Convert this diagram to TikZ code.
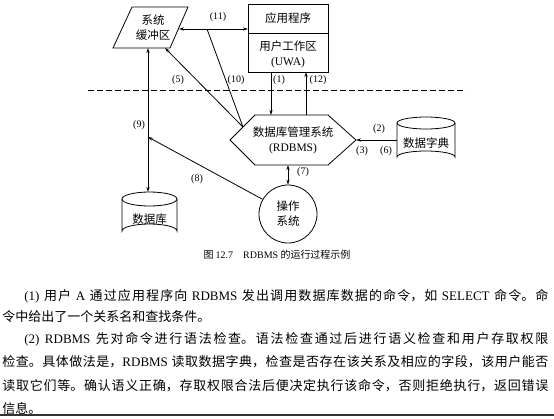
\documentclass[tikz,border=0pt]{standalone}
\usepackage{fontspec}
\setmainfont{Noto Sans CJK SC}
\newfontfamily\latf{Liberation Serif}
\usetikzlibrary{arrows.meta}
\XeTeXlinebreaklocale "zh"
\XeTeXlinebreakskip=0pt plus 1pt
\newcommand\lt[1]{{\latf #1}}
\begin{document}
\begin{tikzpicture}[x=1pt,y=-1pt, line width=0.8pt,
  every node/.style={inner sep=0pt},
  cjk/.style={font=\fontsize{11.5}{15}\selectfont, align=center},
  lbl/.style={font=\latf\fontsize{10}{12}\selectfont},
  arr/.style={-{Stealth[length=5pt,width=3.2pt]}},
  darr/.style={{Stealth[length=5pt,width=3.2pt]}-{Stealth[length=5pt,width=3.2pt]}},
  para/.style={anchor=north west, text width=546pt, align=justify, font=\fontsize{13}{21.5}\selectfont},
]
\useasboundingbox (0,0) rectangle (554,418);
\fill[white] (0,0) rectangle (554,418);
% system buffer (parallelogram)
\draw (113,48) -- (132,7) -- (188,7) -- (170,48) -- cycle;
\node[cjk] (buf) at (153,28) {系统\\缓冲区};
\coordinate (bufR) at (179,29);
\coordinate (bufB9) at (148,48);
\coordinate (bufB5) at (165,48);
% application box
\draw (248,4) rectangle (328,72);
\draw (248,33) -- (328,33);
\node[cjk] (app) at (288,18) {应用程序};
\node[cjk] (uwa) at (288,54) {用户工作区\\\lt{(UWA)}};
\coordinate (appL) at (248,29);
\coordinate (app1) at (271,72);
\coordinate (app12) at (306,72);
% RDBMS hexagon
\draw (230,140) -- (255,115) -- (328,115) -- (356,140) -- (328,165) -- (255,165) -- cycle;
\node[cjk] (rdbms) at (293,140) {数据库管理系统\\\lt{(RDBMS)}};
\coordinate (hexUL) at (243,127);
\coordinate (hexT1) at (271,115);
\coordinate (hexT12) at (306,115);
\coordinate (hexR) at (356,140);
\coordinate (hexB) at (288,165);
% data dictionary
\draw (397,123) -- (397,157) arc[start angle=180,end angle=360,x radius=29,y radius=6] -- (455,123);
\draw (426,123) ellipse[x radius=29,y radius=6];
\node[cjk] (dict) at (426,143) {数据字典};
\coordinate (dictL) at (397,140);
% database
\draw (122,199) -- (122,231) arc[start angle=180,end angle=360,x radius=27.5,y radius=7] -- (177,199);
\draw (149.5,199) ellipse[x radius=27.5,y radius=7];
\node[cjk] (db) at (149.5,219) {数据库};
\coordinate (dbT) at (148,192);
% operating system
\node[circle, draw, minimum size=58pt, cjk] (os) at (288,214) {操作\\系统};
% dashed separator
\coordinate (dashL) at (88,90);
\coordinate (dashR) at (466,90);
\draw[dash pattern=on 6pt off 3pt] (dashL) -- (dashR);
% connectors
\draw[darr] (bufR) -- (appL);
\coordinate (j10) at (207,29);
\draw (hexUL) -- (j10);
\draw[arr] (hexUL) -- (bufB5);
\draw[darr] (bufB9) -- (dbT);
\coordinate (j8) at (148,137);
\draw[arr] (os.150) -- (j8);
\draw[arr] (app1) -- (hexT1);
\draw[arr] (hexT12) -- (app12);
\draw[arr] (dictL) -- (hexR);
\draw[darr] (hexB) -- (os.north);
% labels
\node[lbl] (l11) at (218,17) {(11)};
\node[lbl] (l10) at (236,80) {(10)};
\node[lbl] (l5) at (178,80) {(5)};
\node[lbl] (l9) at (139,125) {(9)};
\node[lbl] (l8) at (197,179) {(8)};
\node[lbl] (l1) at (279,80) {(1)};
\node[lbl] (l12) at (318,80) {(12)};
\node[lbl] (l2) at (379,129) {(2)};
\node[lbl] (l3) at (362,151) {(3)};
\node[lbl] (l6) at (386,151) {(6)};
\node[lbl] (l7) at (303,172) {(7)};
% caption
\node[font=\fontsize{10}{12}\selectfont] (cap) at (277,255) {图 \lt{12.7}\quad\lt{RDBMS} 的运行过程示例};
% body text
\node[para] (p1) at (2,289) {\tolerance=10000\hspace*{22pt}\lt{(1)} 用户 \lt{A} 通过应用程序向 \lt{RDBMS} 发出调用数据库数据的命令，如 \lt{SELECT} 命令。命\linebreak 令中给出了一个关系名和查找条件。};
\node[para, font=\fontsize{13}{23.5}\selectfont] (p2) at (2,332) {\tolerance=10000\hspace*{22pt}\lt{(2)} \lt{RDBMS} 先对命令进行语法检查。语法检查通过后进行语义检查和用户存取权限\linebreak 检查。具体做法是，\lt{RDBMS} 读取数据字典，检查是否存在该关系及相应的字段，该用户能否\linebreak 读取它们等。确认语义正确，存取权限合法后便决定执行该命令，否则拒绝执行，返回错误\linebreak 信息。};
\coordinate (botL) at (0,415);
\coordinate (botR) at (554,415);
\draw[line width=2.5pt, black!80] (botL) -- (botR);
\end{tikzpicture}
\end{document}
